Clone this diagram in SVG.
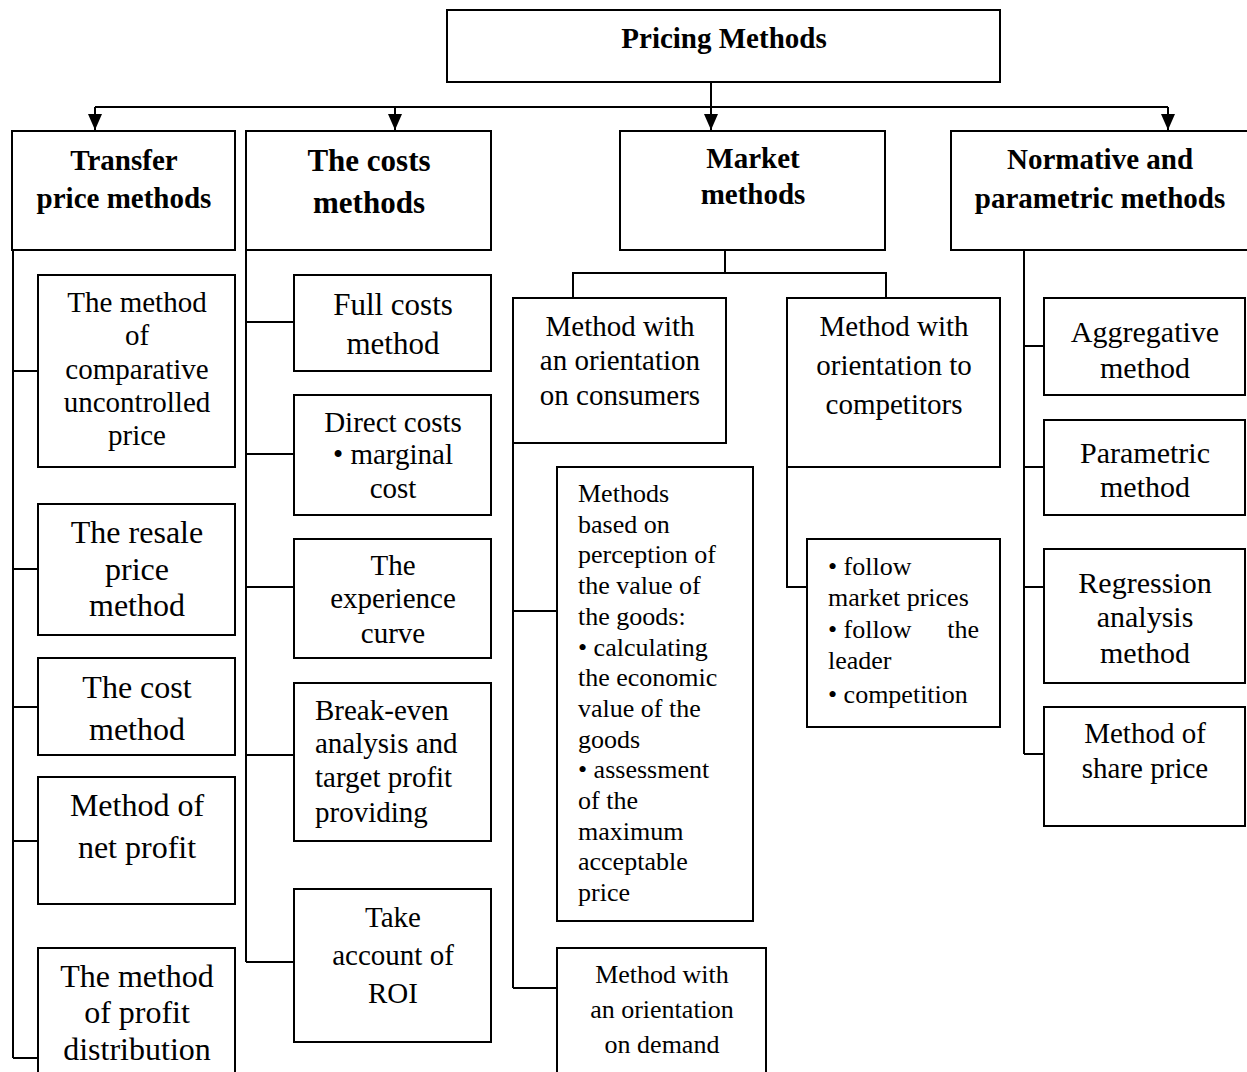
<svg xmlns="http://www.w3.org/2000/svg" width="1247" height="1072" viewBox="0 0 1247 1072">
  <style>
    .box { fill: #fff; stroke: #000; stroke-width: 2; }
    .ln { fill: none; stroke: #000; stroke-width: 2; }
    text { font-family: "Liberation Serif", "Times New Roman", serif; fill: #000; }
    .c { text-anchor: middle; }
    .l { text-anchor: start; }
    .h { font-weight: bold; font-size: 29px; }
    .f29 { font-size: 29px; }
    .f30 { font-size: 30px; }
    .f31 { font-size: 31px; }
    .f32 { font-size: 32px; }
    .f26 { font-size: 26px; }
  </style>
  <defs>
    <marker id="arrow" viewBox="0 0 16 14" refX="16" refY="7" markerWidth="16" markerHeight="14" markerUnits="userSpaceOnUse" orient="auto">
      <path d="M0,0 L16,7 L0,14 z" fill="#000"/>
    </marker>
  </defs>

  <rect width="1247" height="1072" fill="#fff"/>

  <!-- tree connectors -->
  <g id="connectors">
    <path class="ln" d="M95,107 H1168"/>
    <path class="ln" d="M95,107 V130" marker-end="url(#arrow)"/>
    <path class="ln" d="M395,107 V130" marker-end="url(#arrow)"/>
    <path class="ln" d="M1168,107 V130" marker-end="url(#arrow)"/>
    <path class="ln" d="M711,82 V130" marker-end="url(#arrow)"/>

    <!-- transfer price branch -->
    <path class="ln" d="M13,250 V1058"/>
    <path class="ln" d="M13,371 H38 M13,569 H38 M13,707 H38 M13,841 H38 M13,1058 H38"/>

    <!-- costs branch -->
    <path class="ln" d="M246,250 V962"/>
    <path class="ln" d="M246,322 H294 M246,454 H294 M246,587 H294 M246,755 H294 M246,962 H294"/>

    <!-- market branch -->
    <path class="ln" d="M725,250 V273 M573,298 V273 H886 V298"/>
    <path class="ln" d="M513,443 V988 M513,611 H557 M513,988 H557"/>
    <path class="ln" d="M787,467 V587 H807"/>

    <!-- normative branch -->
    <path class="ln" d="M1024,250 V754"/>
    <path class="ln" d="M1024,346 H1044 M1024,467 H1044 M1024,587 H1044 M1024,754 H1044"/>
  </g>

  <g id="pricing-methods">
    <rect class="box" x="447" y="10" width="553" height="72"/>
    <text class="h c" x="724" y="48">Pricing Methods</text>
  </g>

  <!-- column headers -->
  <g id="transfer-price-methods">
    <rect class="box" x="12" y="131" width="223" height="119"/>
    <text class="h c" x="124" y="170">Transfer</text>
    <text class="h c" x="124" y="208">price methods</text>
  </g>
  <g id="costs-methods">
    <rect class="box" x="246" y="131" width="245" height="119"/>
    <text class="h c" x="369" y="171" style="font-size:31px">The costs</text>
    <text class="h c" x="369" y="213" style="font-size:31px">methods</text>
  </g>
  <g id="market-methods">
    <rect class="box" x="620" y="131" width="265" height="119"/>
    <text class="h c" x="753" y="168">Market</text>
    <text class="h c" x="753" y="204">methods</text>
  </g>
  <g id="normative-methods">
    <rect class="box" x="951" y="131" width="300" height="119"/>
    <text class="h c" x="1100" y="169">Normative and</text>
    <text class="h c" x="1100" y="208">parametric methods</text>
  </g>

  <!-- transfer price methods -->
  <g id="comparative-uncontrolled-price">
    <rect class="box" x="38" y="275" width="197" height="192"/>
    <text class="f29 c" x="137" y="312">The method</text>
    <text class="f29 c" x="137" y="345">of</text>
    <text class="f29 c" x="137" y="379">comparative</text>
    <text class="f29 c" x="137" y="412">uncontrolled</text>
    <text class="f29 c" x="137" y="445">price</text>
  </g>
  <g id="resale-price">
    <rect class="box" x="38" y="504" width="197" height="131"/>
    <text class="f32 c" x="137" y="543">The resale</text>
    <text class="f32 c" x="137" y="580">price</text>
    <text class="f32 c" x="137" y="616">method</text>
  </g>
  <g id="cost-method">
    <rect class="box" x="38" y="658" width="197" height="97"/>
    <text class="f32 c" x="137" y="698">The cost</text>
    <text class="f32 c" x="137" y="740">method</text>
  </g>
  <g id="net-profit">
    <rect class="box" x="38" y="777" width="197" height="127"/>
    <text class="f32 c" x="137" y="816">Method of</text>
    <text class="f32 c" x="137" y="858">net profit</text>
  </g>
  <g id="profit-distribution">
    <rect class="box" x="38" y="948" width="197" height="140"/>
    <text class="f32 c" x="137" y="987">The method</text>
    <text class="f32 c" x="137" y="1023">of profit</text>
    <text class="f32 c" x="137" y="1060">distribution</text>
  </g>

  <!-- costs methods -->
  <g id="full-costs">
    <rect class="box" x="294" y="275" width="197" height="96"/>
    <text class="f31 c" x="393" y="315">Full costs</text>
    <text class="f31 c" x="393" y="354">method</text>
  </g>
  <g id="direct-costs">
    <rect class="box" x="294" y="395" width="197" height="120"/>
    <text class="f29 c" x="393" y="432">Direct costs</text>
    <text class="f29 c" x="393" y="464">• marginal</text>
    <text class="f29 c" x="393" y="498">cost</text>
  </g>
  <g id="experience-curve">
    <rect class="box" x="294" y="539" width="197" height="119"/>
    <text class="f29 c" x="393" y="575">The</text>
    <text class="f29 c" x="393" y="608">experience</text>
    <text class="f29 c" x="393" y="643">curve</text>
  </g>
  <g id="break-even">
    <rect class="box" x="294" y="683" width="197" height="158"/>
    <text class="f29 l" x="315" y="720">Break-even</text>
    <text class="f29 l" x="315" y="753">analysis and</text>
    <text class="f29 l" x="315" y="787">target profit</text>
    <text class="f29 l" x="315" y="822">providing</text>
  </g>
  <g id="roi">
    <rect class="box" x="294" y="889" width="197" height="153"/>
    <text class="f29 c" x="393" y="927">Take</text>
    <text class="f29 c" x="393" y="965">account of</text>
    <text class="f29 c" x="393" y="1003">ROI</text>
  </g>

  <!-- market methods -->
  <g id="consumer-orientation">
    <rect class="box" x="513" y="298" width="213" height="145"/>
    <text class="f29 c" x="620" y="336">Method with</text>
    <text class="f29 c" x="620" y="370">an orientation</text>
    <text class="f29 c" x="620" y="405">on consumers</text>
  </g>
  <g id="competitor-orientation">
    <rect class="box" x="787" y="298" width="213" height="169"/>
    <text class="f29 c" x="894" y="336">Method with</text>
    <text class="f29 c" x="894" y="375">orientation to</text>
    <text class="f29 c" x="894" y="414">competitors</text>
  </g>
  <g id="perceived-value">
    <rect class="box" x="557" y="467" width="196" height="454"/>
    <text class="f26 l" x="578" y="502">Methods</text>
    <text class="f26 l" x="578" y="532.7">based on</text>
    <text class="f26 l" x="578" y="563.4">perception of</text>
    <text class="f26 l" x="578" y="594.1">the value of</text>
    <text class="f26 l" x="578" y="624.8">the goods:</text>
    <text class="f26 l" x="578" y="655.5">• calculating</text>
    <text class="f26 l" x="578" y="686.2">the economic</text>
    <text class="f26 l" x="578" y="716.9">value of the</text>
    <text class="f26 l" x="578" y="747.6">goods</text>
    <text class="f26 l" x="578" y="778.3">• assessment</text>
    <text class="f26 l" x="578" y="809">of the</text>
    <text class="f26 l" x="578" y="839.7">maximum</text>
    <text class="f26 l" x="578" y="870.4">acceptable</text>
    <text class="f26 l" x="578" y="901.1">price</text>
  </g>
  <g id="demand-orientation">
    <rect class="box" x="557" y="948" width="209" height="140"/>
    <text class="f26 c" x="662" y="983">Method with</text>
    <text class="f26 c" x="662" y="1018">an orientation</text>
    <text class="f26 c" x="662" y="1053">on demand</text>
  </g>
  <g id="competitor-options">
    <rect class="box" x="807" y="539" width="193" height="188"/>
    <text class="f26 l" x="828" y="575">• follow</text>
    <text class="f26 l" x="828" y="606">market prices</text>
    <text class="f26" y="638"><tspan x="828" text-anchor="start">• follow</tspan><tspan x="979" text-anchor="end">the</tspan></text>
    <text class="f26 l" x="828" y="669">leader</text>
    <text class="f26 l" x="828" y="703">• competition</text>
  </g>

  <!-- normative and parametric methods -->
  <g id="aggregative">
    <rect class="box" x="1044" y="298" width="201" height="97"/>
    <text class="f30 c" x="1145" y="342">Aggregative</text>
    <text class="f30 c" x="1145" y="378">method</text>
  </g>
  <g id="parametric">
    <rect class="box" x="1044" y="420" width="201" height="95"/>
    <text class="f30 c" x="1145" y="463">Parametric</text>
    <text class="f30 c" x="1145" y="497">method</text>
  </g>
  <g id="regression-analysis">
    <rect class="box" x="1044" y="549" width="201" height="134"/>
    <text class="f30 c" x="1145" y="593">Regression</text>
    <text class="f30 c" x="1145" y="627">analysis</text>
    <text class="f30 c" x="1145" y="663">method</text>
  </g>
  <g id="share-price">
    <rect class="box" x="1044" y="707" width="201" height="119"/>
    <text class="f29 c" x="1145" y="743">Method of</text>
    <text class="f29 c" x="1145" y="778">share price</text>
  </g>
</svg>
